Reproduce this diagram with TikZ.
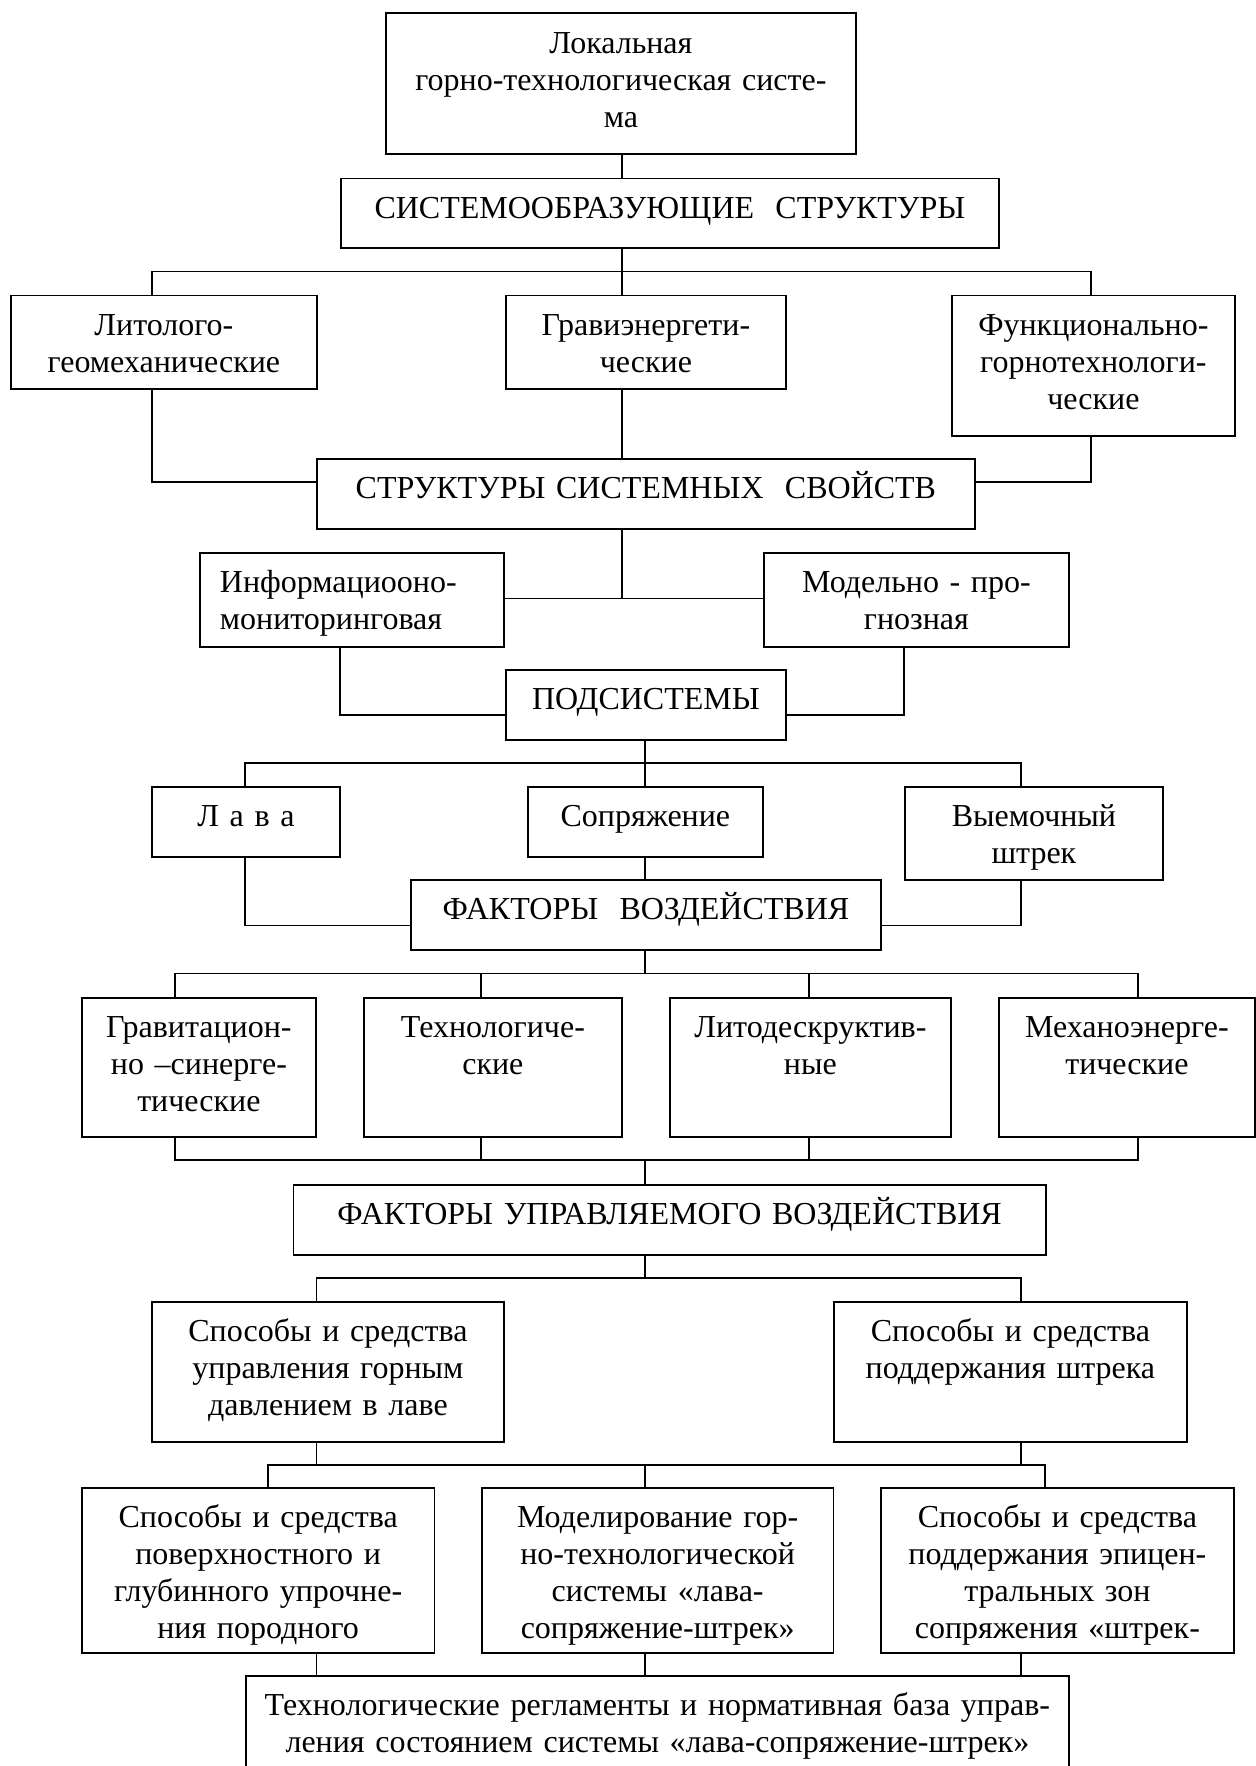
\documentclass[tikz,border=0pt]{standalone}
\usepackage{fontspec}
\setmainfont[WordSpace=0.85]{Liberation Serif}
\usepackage{tikz}
\usetikzlibrary{positioning}

\begin{document}
\begin{tikzpicture}[x=0.5pt, y=-0.5pt, line width=0.9pt,
  font=\fontsize{16}{18.4}\selectfont,
  blk/.style 2 args={draw, anchor=north west, inner sep=0pt, align=center,
    text width=#1, text height=20pt, text depth=#2}]
\useasboundingbox (0,0) rectangle (1256,1766);
\clip (0,0) rectangle (1256,1766);

\node[blk={235pt}{50.25pt}] (lok) at (385,12.5) {Локальная\\горно-технологическая систе-\\ма};
\node[blk={329pt}{14.75pt}] (sys) at (340,177.5) {СИСТЕМООБРАЗУЮЩИЕ\ \ СТРУКТУРЫ};

\node[blk={153pt}{26.7pt}] (lito) at (10,294.6) {Литолого-\\геомеханические};
\node[blk={140pt}{26.7pt}] (grav) at (505,294.6) {Гравиэнергети-\\ческие};
\node[blk={141.5pt}{50.2pt}] (func) at (951,294.6) {Функционально-\\горнотехнологи-\\ческие};

\node[blk={329pt}{15pt}] (svoj) at (316,458) {СТРУКТУРЫ СИСТЕМНЫХ\ \ СВОЙСТВ};

\node[blk={132pt}{27pt}, inner xsep=10pt, align=left] (info) at (199,552) {Информациооно-\\мониторинговая};
\node[blk={152.5pt}{27pt}] (model) at (763,552) {Модельно - про-\\гнозная};

\node[blk={140pt}{15pt}] (podsys) at (505,669) {ПОДСИСТЕМЫ};

\node[blk={94pt}{15pt}] (lava) at (151,786) {Л а в а};
\node[blk={117.5pt}{15pt}] (sopr) at (527,786) {Сопряжение};
\node[blk={129pt}{26.5pt}] (shtrek) at (904,786) {Выемочный\\штрек};

\node[blk={235pt}{15pt}] (fakt) at (410,879) {ФАКТОРЫ\ \ ВОЗДЕЙСТВИЯ};

\node[blk={117pt}{49.65pt}] (gsin) at (81,996.7) {Гравитацион-\\но –синерге-\\тические};
\node[blk={129pt}{49.65pt}] (tech) at (363,996.7) {Технологиче-\\ские};
\node[blk={140.5pt}{49.65pt}] (litod) at (669,996.7) {Литодескруктив-\\ные};
\node[blk={128pt}{49.65pt}] (mech) at (998,996.7) {Механоэнерге-\\тические};

\node[blk={376.25pt}{15pt}] (upr) at (292.5,1184) {ФАКТОРЫ УПРАВЛЯЕМОГО ВОЗДЕЙСТВИЯ};

\node[blk={176pt}{50pt}] (sposL) at (151,1301) {Способы и средства\\управления горным\\давлением в лаве};
\node[blk={176.5pt}{50pt}] (sposR) at (833,1301) {Способы и средства\\поддержания штрека};

\node[blk={176.25pt}{62.5pt}] (uprA) at (81,1487) {Способы и средства\\поверхностного и\\глубинного упрочне-\\ния породного};
\node[blk={175.75pt}{62.5pt}] (modB) at (481,1487) {Моделирование гор-\\но-технологической\\системы «лава-\\сопряжение-штрек»};
\node[blk={176.5pt}{62.5pt}] (sposC) at (880,1487) {Способы и средства\\поддержания эпицен-\\тральных зон\\сопряжения «штрек-};

\node[blk={411.5pt}{42.5pt}] (regl) at (245,1675) {Технологические регламенты и нормативная база управ-\\ления состоянием системы «лава-сопряжение-штрек»};

% junctions
\coordinate (jA1) at (152,271.5);
\coordinate (jA2) at (622,271.5);
\coordinate (jA3) at (1091,271.5);
\coordinate (jB1) at (152,482);
\coordinate (jB3) at (1091,482);
\coordinate (jC) at (622,598.5);
\coordinate (jD1) at (340,715);
\coordinate (jD3) at (904,715);
\coordinate (jE1) at (245,762.6);
\coordinate (jE2) at (645,762.6);
\coordinate (jE3) at (1021,762.6);
\coordinate (jF1) at (245,925.5);
\coordinate (jF3) at (1021,925.5);
\coordinate (jG1) at (175,973.4);
\coordinate (jG2) at (481,973.4);
\coordinate (jG3) at (809,973.4);
\coordinate (jG4) at (1138,973.4);
\coordinate (jH1) at (175,1160);
\coordinate (jH4) at (1138,1160);
\coordinate (jI1) at (316.5,1278);
\coordinate (jI3) at (1021,1278);
\coordinate (jK1) at (268,1465);
\coordinate (jK2) at (645,1465);
\coordinate (jK3) at (1045,1465);

% connectors
\draw (jA2 |- lok.south) -- (jA2 |- sys.north);
\draw (jA2 |- sys.south) -- (jA2);
\draw (jA1 |- lito.north) -- (jA1) -- (jA3) -- (jA3 |- func.north);
\draw (jA2) -- (jA2 |- grav.north);
\draw (jB1 |- lito.south) -- (jB1) -- (jB1 -| svoj.west);
\draw (jB3 |- func.south) -- (jB3) -- (jB3 -| svoj.east);
\draw (jA2 |- grav.south) -- (jA2 |- svoj.north);

\draw (jA2 |- svoj.south) -- (jC);
\draw (info.east |- jC) -- (model.west |- jC);
\draw (jD1 |- info.south) -- (jD1) -- (jD1 -| podsys.west);
\draw (jD3 |- model.south) -- (jD3) -- (jD3 -| podsys.east);

\draw (jE2 |- podsys.south) -- (jE2);
\draw (jE1 |- lava.north) -- (jE1) -- (jE3) -- (jE3 |- shtrek.north);
\draw (jE2) -- (jE2 |- sopr.north);
\draw (jF1 |- lava.south) -- (jF1) -- (jF1 -| fakt.west);
\draw (jF3 |- shtrek.south) -- (jF3) -- (jF3 -| fakt.east);
\draw (jE2 |- sopr.south) -- (jE2 |- fakt.north);

\draw (jE2 |- fakt.south) -- (jE2 |- jG1);
\draw (jG1 |- gsin.north) -- (jG1) -- (jG4) -- (jG4 |- mech.north);
\draw (jG2) -- (jG2 |- tech.north);
\draw (jG3) -- (jG3 |- litod.north);
\draw (jH1 |- gsin.south) -- (jH1) -- (jH4) -- (jH4 |- mech.south);
\draw (jG2 |- tech.south) -- (jG2 |- jH1);
\draw (jG3 |- litod.south) -- (jG3 |- jH1);
\draw (jE2 |- jH1) -- (jE2 |- upr.north);

\draw (jE2 |- upr.south) -- (jE2 |- jI1);
\draw (jI1 |- sposL.north) -- (jI1) -- (jI3) -- (jI3 |- sposR.north);
\draw (jI1 |- sposL.south) -- (jI1 |- jK1);
\draw (jI3 |- sposR.south) -- (jI3 |- jK1);
\draw (jK1 |- uprA.north) -- (jK1) -- (jK3) -- (jK3 |- sposC.north);
\draw (jK2) -- (jK2 |- modB.north);

\draw (jI1 |- uprA.south) -- (jI1 |- regl.north);
\draw (jK2 |- modB.south) -- (jK2 |- regl.north);
\draw (jI3 |- sposC.south) -- (jI3 |- regl.north);
\end{tikzpicture}
\end{document}
